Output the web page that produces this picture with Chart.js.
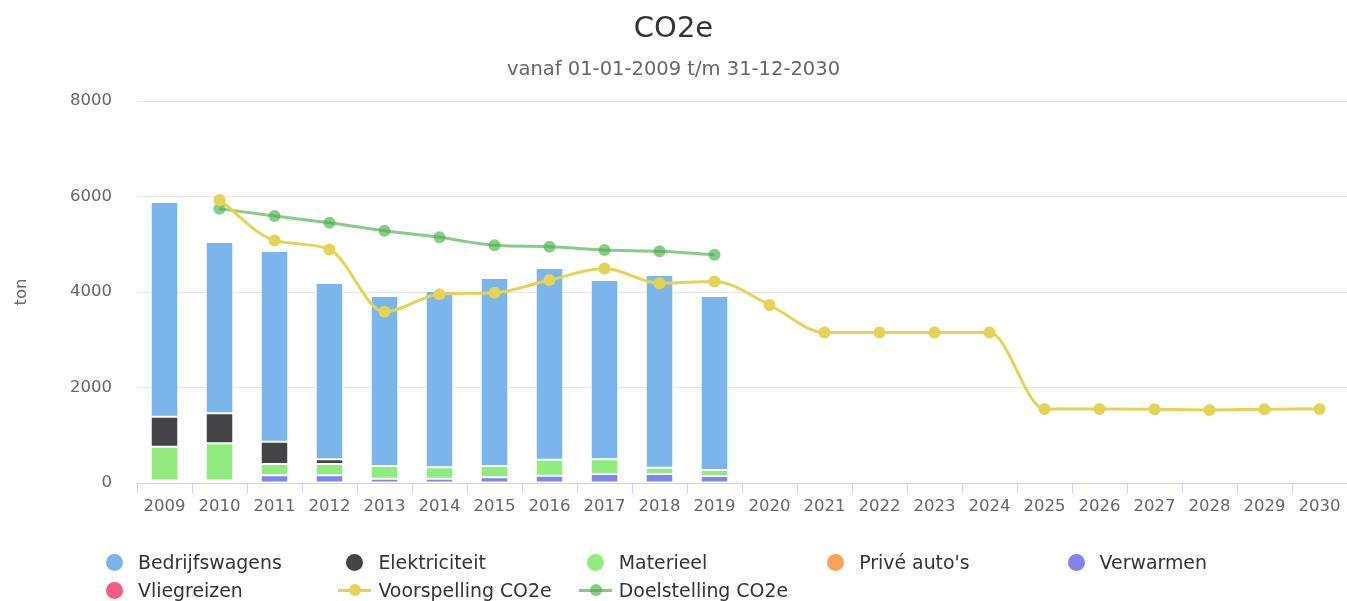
<!DOCTYPE html>
<html>
<head>
<meta charset="utf-8">
<script src="https://cdn.jsdelivr.net/npm/chart.js@4"></script>
<style>
  body { margin: 0; background: #fff; font-family: "DejaVu Sans", sans-serif; }
  #wrap { position: relative; width: 1347px; height: 601px; }
  #chartBox { position: absolute; left: 0; top: 0; width: 1347px; height: 530px; }
  #legend { position: absolute; left: 0; top: 0; width: 1347px; height: 601px; pointer-events: none; }
  .item { position: absolute; height: 24px; display: flex; align-items: center; font-size: 18.9px; color: #333; }
  .mark { position: relative; width: 34px; height: 24px; }
  .dot { position: absolute; left: 8px; top: 3.5px; width: 17px; height: 17px; border-radius: 50%; }
  .ln { position: absolute; left: 0; top: 10.5px; width: 33px; height: 3px; }
  .sdot { position: absolute; left: 11px; top: 6px; width: 12px; height: 12px; border-radius: 50%; }
  .txt { margin-left: 6px; white-space: nowrap; }
</style>
</head>
<body>
<div id="wrap">
  <div id="chartBox"><canvas id="co2chart"></canvas></div>
  <div id="legend"></div>
</div>
<script>
// jaren
var jaren = ['2009','2010','2011','2012','2013','2014','2015','2016','2017','2018','2019',
             '2020','2021','2022','2023','2024','2025','2026','2027','2028','2029','2030'];

// gestapelde kolommen (ton)
var bedrijfswagens = [4495, 3587, 3995, 3692, 3560, 3691, 3937, 4015, 3755, 4035, 3644,
                      null, null, null, null, null, null, null, null, null, null, null];
var elektriciteit  = [630, 630, 467, 98, null, null, null, null, null, null, null,
                      null, null, null, null, null, null, null, null, null, null, null];
var materieel      = [710, 780, 238, 238, 266, 239, 237, 335, 308, 133, 125,
                      null, null, null, null, null, null, null, null, null, null, null];
var priveAutos     = [null, null, null, null, null, null, null, null, null, null, null,
                      null, null, null, null, null, null, null, null, null, null, null];
var verwarmen      = [50, 50, 160, 160, 90, 90, 119, 153, 188, 188, 147,
                      null, null, null, null, null, null, null, null, null, null, null];
var vliegreizen    = [null, null, null, null, null, null, null, null, null, null, null,
                      null, null, null, null, null, null, null, null, null, null, null];

// lijnen
var voorspelling = [null, 5927, 5080, 4890, 3585, 3955, 3985, 4251, 4490, 4185, 4222,
                    3728, 3150, 3150, 3150, 3150, 1550, 1550, 1545, 1530, 1545, 1548];
var doelstelling = [null, 5745, 5592, 5452, 5284, 5145, 4978, 4949, 4880, 4852, 4782,
                    null, null, null, null, null, null, null, null, null, null, null];

var yTicks = [0, 2000, 4000, 6000, 8000];

var kleuren = {
  bedrijfswagens: '#7cb5ec',
  elektriciteit: '#434348',
  materieel: '#90ed7d',
  prive: '#f7a35c',
  verwarmen: '#8085e9',
  vliegreizen: '#f15c80',
  voorspelling: '#e4d354',
  doelstelling: 'rgba(70,178,70,0.65)'
};

var FONT = '"DejaVu Sans", sans-serif';

function kolom(label, data, kleur) {
  return {
    type: 'bar', label: label, data: data, backgroundColor: kleur,
    borderColor: '#ffffff', borderWidth: 1, borderSkipped: false,
    stack: 'kolommen', order: 1,
    barPercentage: 0.5, categoryPercentage: 1.0
  };
}

var datasets = [
  {
    type: 'line', label: 'Voorspelling CO2e', data: voorspelling,
    borderColor: kleuren.voorspelling, backgroundColor: kleuren.voorspelling,
    borderWidth: 3, pointRadius: 6, pointBorderWidth: 0,
    pointBackgroundColor: kleuren.voorspelling,
    cubicInterpolationMode: 'monotone', stack: 'l1', order: 0
  },
  {
    type: 'line', label: 'Doelstelling CO2e', data: doelstelling,
    borderColor: kleuren.doelstelling, backgroundColor: kleuren.doelstelling,
    borderWidth: 3, pointRadius: 6, pointBorderWidth: 0,
    pointBackgroundColor: kleuren.doelstelling,
    cubicInterpolationMode: 'monotone', stack: 'l2', order: 0
  },
  kolom('Vliegreizen', vliegreizen, kleuren.vliegreizen),
  kolom('Verwarmen', verwarmen, kleuren.verwarmen),
  kolom("Privé auto's", priveAutos, kleuren.prive),
  kolom('Materieel', materieel, kleuren.materieel),
  kolom('Elektriciteit', elektriciteit, kleuren.elektriciteit),
  kolom('Bedrijfswagens', bedrijfswagens, kleuren.bedrijfswagens)
];

var ctx = document.getElementById('co2chart');
new Chart(ctx, {
  data: { labels: jaren, datasets: datasets },
  options: {
    responsive: true,
    maintainAspectRatio: false,
    animation: false,
    layout: { autoPadding: false, padding: { left: 0, right: 0, top: 0, bottom: 9.2 } },
    plugins: {
      legend: { display: false },
      tooltip: { enabled: false },
      title: {
        display: true, text: 'CO2e', color: '#333333',
        font: { family: FONT, size: 29, weight: 'normal' },
        padding: { top: 12.5, bottom: 10.7 }
      },
      subtitle: {
        display: true, text: 'vanaf 01-01-2009 t/m 31-12-2030', color: '#666666',
        font: { family: FONT, size: 19.5, weight: 'normal' },
        padding: { top: 0, bottom: 19.6 }
      }
    },
    scales: {
      x: {
        stacked: true,
        offset: true,
        afterFit: function (s) { s.paddingLeft = 0; s.paddingRight = 0; },
        grid: { offset: true, drawOnChartArea: false, drawTicks: true, tickLength: 10, color: '#ccd6eb' },
        border: { display: true, color: '#ccd6eb', width: 1 },
        ticks: { color: '#666666', font: { family: FONT, size: 16.5 }, padding: 4, autoSkip: false, maxRotation: 0 }
      },
      y: {
        stacked: true,
        min: 0, max: 8000,
        afterFit: function (s) { s.width = 137; s.paddingTop = 0; s.paddingBottom = 0; },
        afterBuildTicks: function (s) { s.ticks = yTicks.map(function (v) { return { value: v }; }); },
        grid: { color: '#e6e6e6', drawTicks: false, lineWidth: 1 },
        border: { display: false },
        ticks: {
          color: '#666666', font: { family: FONT, size: 16.5 }, padding: 25,
          callback: function (v) { return String(v); }
        },
        title: {
          display: true, text: 'ton', color: '#666666',
          font: { family: FONT, size: 16.5 }, padding: { top: 12, bottom: 0 }
        }
      }
    }
  }
});

// legenda in kolommen zoals het origineel
var legendItems = [
  { label: 'Bedrijfswagens', kleur: kleuren.bedrijfswagens, lijn: false },
  { label: 'Elektriciteit', kleur: kleuren.elektriciteit, lijn: false },
  { label: 'Materieel', kleur: kleuren.materieel, lijn: false },
  { label: "Privé auto's", kleur: kleuren.prive, lijn: false },
  { label: 'Verwarmen', kleur: kleuren.verwarmen, lijn: false },
  { label: 'Vliegreizen', kleur: kleuren.vliegreizen, lijn: false },
  { label: 'Voorspelling CO2e', kleur: kleuren.voorspelling, lijn: true },
  { label: 'Doelstelling CO2e', kleur: kleuren.doelstelling, lijn: true }
];
var lg = document.getElementById('legend');
legendItems.forEach(function (it, i) {
  var col = i % 5, row = Math.floor(i / 5);
  var d = document.createElement('div');
  d.className = 'item';
  d.style.left = (98 + col * 240.4) + 'px';
  d.style.top = (550 + row * 28) + 'px';
  var m = document.createElement('div');
  m.className = 'mark';
  if (it.lijn) {
    m.innerHTML = '<div class="ln" style="background:' + it.kleur + '"></div>' +
                  '<div class="sdot" style="background:' + it.kleur + '"></div>';
  } else {
    m.innerHTML = '<div class="dot" style="background:' + it.kleur + '"></div>';
  }
  var t = document.createElement('span');
  t.className = 'txt';
  t.textContent = it.label;
  d.appendChild(m);
  d.appendChild(t);
  lg.appendChild(d);
});
</script>
</body>
</html>
